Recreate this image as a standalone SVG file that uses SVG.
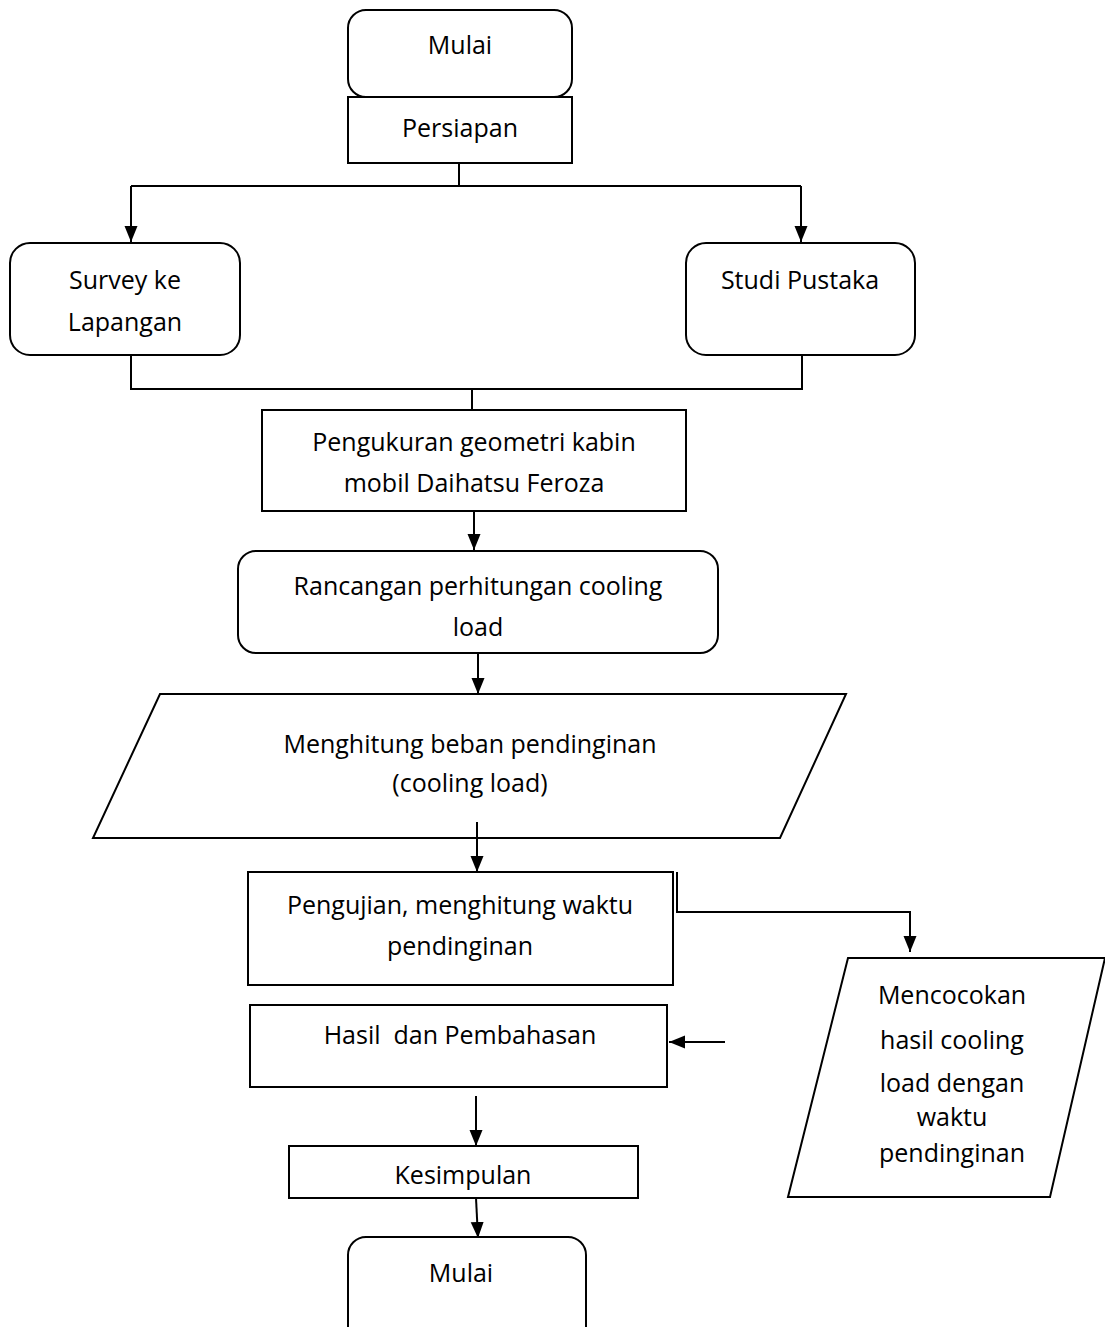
<svg xmlns="http://www.w3.org/2000/svg" width="1105" height="1327" viewBox="0 0 1105 1327">
<style>
.box{fill:#fff;stroke:#000;stroke-width:2}
.ln{fill:none;stroke:#000;stroke-width:2}
text{font-family:"Open Sans","Noto Sans",sans-serif;font-size:25px;fill:#000;text-anchor:middle}
</style>
<defs>
<marker id="ah" markerUnits="userSpaceOnUse" markerWidth="16" markerHeight="16" viewBox="0 0 16 16" refX="16" refY="8" orient="auto">
<path d="M0,1.5 L16,8 L0,14.5 Z" fill="#000"/>
</marker>
</defs>
<g id="mulai-top"><rect class="box" x="348" y="10" width="224" height="87" rx="18"/><text x="460" y="54">Mulai</text></g>
<g id="persiapan"><rect class="box" x="348" y="97" width="224" height="66"/><text x="460" y="137">Persiapan</text></g>
<g id="survey"><rect class="box" x="10" y="243" width="230" height="112" rx="20"/><text x="125" y="289">Survey ke</text><text x="125" y="331">Lapangan</text></g>
<g id="studi"><rect class="box" x="686" y="243" width="229" height="112" rx="20"/><text x="800" y="289">Studi Pustaka</text></g>
<g id="pengukuran"><rect class="box" x="262" y="410" width="424" height="101"/><text x="474" y="451">Pengukuran geometri kabin</text><text x="474" y="492">mobil Daihatsu Feroza</text></g>
<g id="rancangan"><rect class="box" x="238" y="551" width="480" height="102" rx="18"/><text x="478" y="595">Rancangan perhitungan cooling</text><text x="478" y="636">load</text></g>
<g id="menghitung"><polygon class="box" points="160,694 846,694 780,838 93,838"/><text x="470" y="753">Menghitung beban pendinginan</text><text x="470" y="792">(cooling load)</text></g>
<g id="pengujian"><rect class="box" x="248" y="872" width="425" height="113"/><text x="460" y="914">Pengujian, menghitung waktu</text><text x="460" y="955">pendinginan</text></g>
<g id="mencocokan"><polygon class="box" points="848,958 1105,958 1050,1197 788,1197"/><text x="952" y="1004">Mencocokan</text><text x="952" y="1049">hasil cooling</text><text x="952" y="1092">load dengan</text><text x="952" y="1126">waktu</text><text x="952" y="1162">pendinginan</text></g>
<g id="hasil"><rect class="box" x="250" y="1005" width="417" height="82"/><text x="460" y="1044" xml:space="preserve">Hasil  dan Pembahasan</text></g>
<g id="kesimpulan"><rect class="box" x="289" y="1146" width="349" height="52"/><text x="463" y="1184">Kesimpulan</text></g>
<g id="mulai-bottom"><rect class="box" x="348" y="1237" width="238" height="110" rx="18"/><text x="461" y="1282">Mulai</text></g>
<g id="connectors">
<path class="ln" d="M459,163 V186"/>
<path class="ln" d="M131,186 H801"/>
<path class="ln" d="M131,186 V242" marker-end="url(#ah)"/>
<path class="ln" d="M801,186 V242" marker-end="url(#ah)"/>
<path class="ln" d="M131,355 V389 H802 V355"/>
<path class="ln" d="M472,389 V410"/>
<path class="ln" d="M474,511 V550" marker-end="url(#ah)"/>
<path class="ln" d="M478,653 V694" marker-end="url(#ah)"/>
<path class="ln" d="M477,822 V872" marker-end="url(#ah)"/>
<path class="ln" d="M677,872 V912 H910 V952" marker-end="url(#ah)"/>
<path class="ln" d="M725,1042 H669" marker-end="url(#ah)"/>
<path class="ln" d="M476,1096 V1146" marker-end="url(#ah)"/>
<path class="ln" d="M476,1198 L478,1238" marker-end="url(#ah)"/>
</g>
</svg>
